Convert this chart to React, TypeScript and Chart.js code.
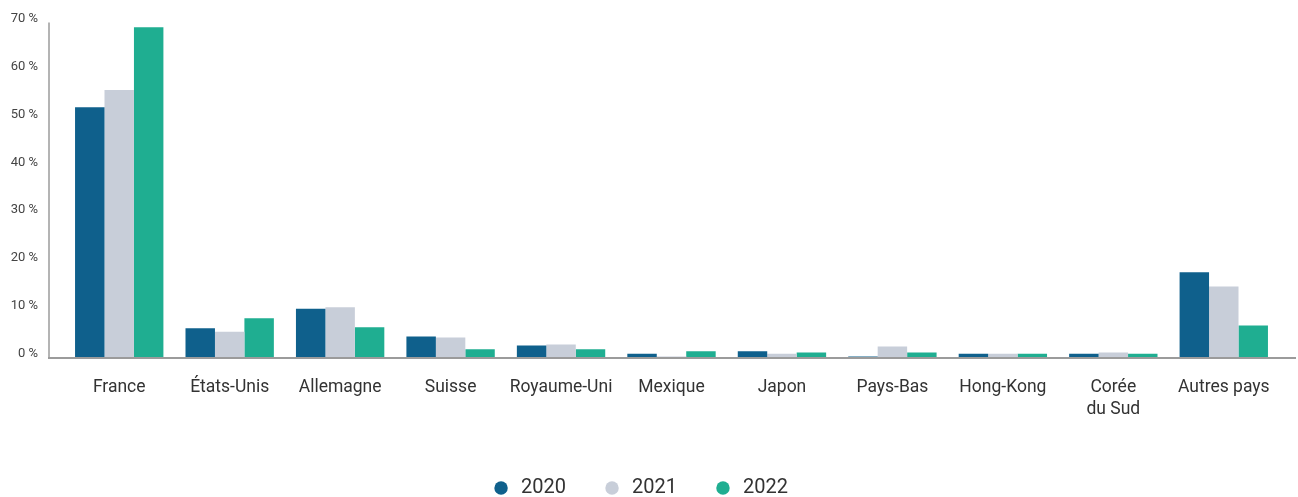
import React, { useEffect, useRef } from "react";
import { Chart, registerables } from "chart.js";

Chart.register(...registerables);

const categories: (string | string[])[] = [
  "France",
  "États-Unis",
  "Allemagne",
  "Suisse",
  "Royaume-Uni",
  "Mexique",
  "Japon",
  "Pays-Bas",
  "Hong-Kong",
  ["Corée", "du Sud"],
  "Autres pays",
];

const seriesLabels = ["2020", "2021", "2022"];
const values2020 = [52.3, 6.2, 10.3, 4.5, 2.6, 0.9, 1.4, 0.3, 0.9, 0.9, 17.9];
const values2021 = [55.9, 5.5, 10.6, 4.3, 2.8, 0.3, 0.9, 2.4, 0.9, 1.15, 14.9];
const values2022 = [69.0, 8.3, 6.4, 1.8, 1.8, 1.4, 1.15, 1.15, 0.9, 0.9, 6.8];
const seriesColors = ["#0f608c", "#c8ced9", "#1fae91"];

const yMax = 70;
const yStep = 10;

const axisLines = {
  id: "axisLines",
  afterDatasetsDraw(chart: any) {
    const { ctx, chartArea } = chart;
    const left = chartArea.left - 15;
    const right = chartArea.right + 17;
    ctx.save();
    ctx.strokeStyle = "#9b9b9b";
    ctx.lineWidth = 1.5;
    ctx.beginPath();
    ctx.moveTo(left, chartArea.top);
    ctx.lineTo(left, chartArea.bottom);
    ctx.stroke();
    ctx.lineWidth = 2;
    ctx.beginPath();
    ctx.moveTo(left - 1, chartArea.bottom);
    ctx.lineTo(right, chartArea.bottom);
    ctx.stroke();
    ctx.restore();
  },
};

export default function App() {
  const ref = useRef<HTMLCanvasElement | null>(null);
  useEffect(() => {
    if (!ref.current) return;
    const data = [values2020, values2021, values2022];
    const chart = new Chart(ref.current, {
      type: "bar",
      data: {
        labels: categories,
        datasets: seriesLabels.map((l, i) => ({
          label: l,
          data: data[i],
          backgroundColor: seriesColors[i],
          borderWidth: 0,
          categoryPercentage: 0.8,
          barPercentage: 1.0,
        })),
      },
      options: {
        animation: false,
        responsive: false,
        maintainAspectRatio: false,
        layout: { padding: { top: 22.5, right: 19, bottom: 0, left: 0 } },
        plugins: {
          tooltip: { enabled: false },
          legend: {
            position: "bottom",
            maxHeight: 55,
            labels: {
              usePointStyle: true,
              pointStyle: "circle",
              boxWidth: 20,
              boxHeight: 9.5,
              padding: 36,
              color: "#333333",
              font: { family: "Roboto", size: 20 },
            },
          },
        },
        scales: {
          x: {
            grid: { display: false, drawTicks: false },
            border: { display: false },
            ticks: {
              color: "#333333",
              padding: 19,
              maxRotation: 0,
              autoSkip: false,
              font: { family: "Roboto", size: 17.5, lineHeight: 1.25 },
            },
            afterFit(scale: any) {
              scale.height = 84;
            },
          },
          y: {
            min: 0,
            max: yMax,
            grid: { display: false, drawTicks: false },
            border: { display: false },
            ticks: {
              stepSize: yStep,
              color: "#444444",
              padding: 26,
              labelOffset: -4,
              font: { family: "Roboto", size: 13 },
              callback: (v: any) => `${v} %`,
            },
            afterFit(scale: any) {
              scale.width = 64;
              scale.paddingTop = 0;
              scale.paddingBottom = 0;
            },
          },
        },
      },
      plugins: [axisLines],
    });
    return () => chart.destroy();
  }, []);
  return (
    <div style={{ position: "fixed", left: 0, top: 0, width: 1298, height: 497, background: "#ffffff" }}>
      <canvas ref={ref} width={1298} height={497} style={{ display: "block", width: 1298, height: 497 }} />
    </div>
  );
}
